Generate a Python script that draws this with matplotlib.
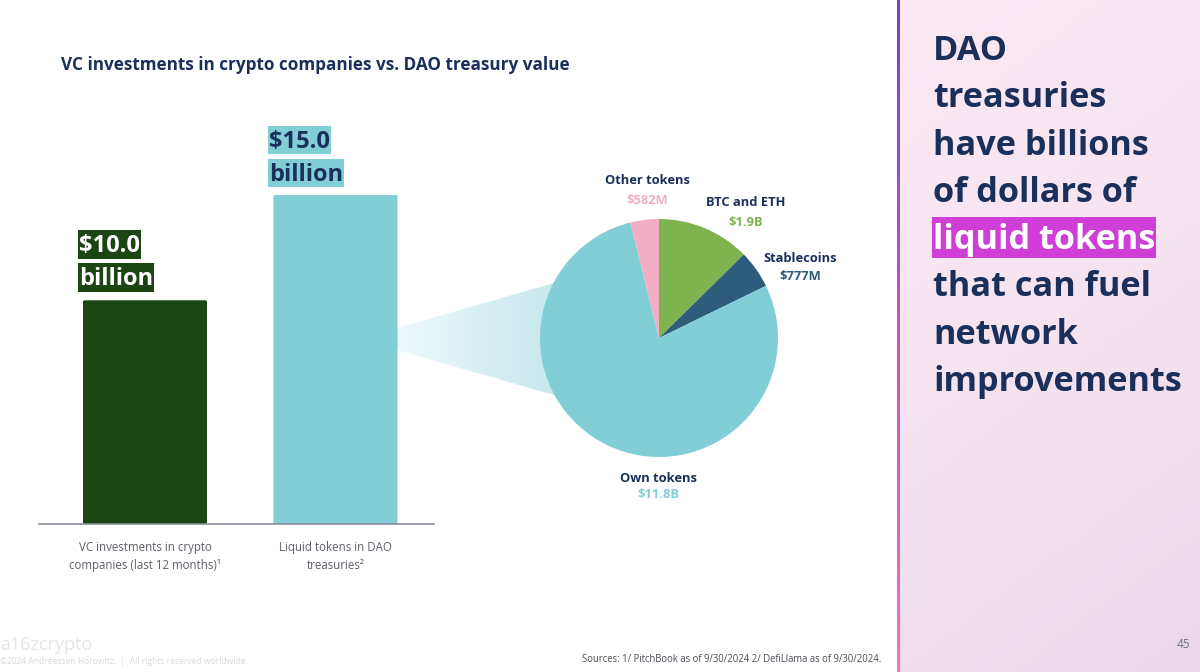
import numpy as np
import matplotlib
matplotlib.use('Agg')
import matplotlib.pyplot as plt
from matplotlib.patches import Polygon, FancyBboxPatch, Rectangle
from matplotlib.colors import LinearSegmentedColormap

plt.rcParams['font.family'] = ['Open Sans', 'DejaVu Sans']

NAVY = '#1a2f5a'
TEAL = '#81ced7'
DARK_GREEN = '#1b4513'

bar_labels = ['VC investments in crypto\ncompanies (last 12 months)¹', 'Liquid tokens in DAO\ntreasuries²']
bar_values = [10.2, 15.0]
bar_colors = [DARK_GREEN, TEAL]

pie_names = ['BTC and ETH', 'Stablecoins', 'Own tokens', 'Other tokens']
pie_values = [1.9, 0.777, 11.8, 0.582]
pie_amounts = ['$1.9B', '$777M', '$11.8B', '$582M']
pie_colors = ['#7fb350', '#2e5c7c', TEAL, '#f1adc3']

headline = ['DAO', 'treasuries', 'have billions', 'of dollars of', 'liquid tokens', 'that can fuel', 'network', 'improvements']

W, H = 1200, 672
fig = plt.figure(figsize=(12, 6.72), dpi=100, facecolor='white')


def px_axes(left, top, right, bottom, **kw):
    return fig.add_axes([left / W, 1 - bottom / H, (right - left) / W, (bottom - top) / H], **kw)


# whole slide in pixel coordinates
bg = px_axes(0, 0, W, H)
bg.set_xlim(0, W)
bg.set_ylim(H, 0)
bg.axis('off')


def highlighted(x, top, bottom, s, size, fc, tc):
    # text on a marker-style block, block width follows the text
    t = bg.text(x + 1, (top + bottom) / 2 + size * 0.1, s, fontsize=size, fontweight='bold', color=tc,
                va='center', ha='left', zorder=6)
    width = t.get_window_extent(fig.canvas.get_renderer()).width
    bg.add_patch(Rectangle((x, top), width + 2, bottom - top, facecolor=fc, edgecolor='none', zorder=5))


# right panel
yy, xx = np.mgrid[0:1:120j, 0:1:60j]
t = 0.75 * yy + 0.25 * xx
panel_cmap = LinearSegmentedColormap.from_list('panel', ['#fbeaf4', '#f5e3f0', '#ebd9ea'])
bg.imshow(t, extent=(897, W, H, 0), cmap=panel_cmap, aspect='auto', vmin=0, vmax=1, zorder=0)
edge_cmap = LinearSegmentedColormap.from_list('edge', ['#8a3bb8', '#c257c4', '#f273b6'])
bg.imshow(np.linspace(0, 1, 200).reshape(-1, 1), extent=(896.5, 899.5, H, 0), cmap=edge_cmap,
          aspect='auto', zorder=1)

# funnel from the bar to the pie
fade_cmap = LinearSegmentedColormap.from_list('fade', ['#eef9fb', '#c1e6eb'])
fade = bg.imshow(np.linspace(0, 1, 200).reshape(1, -1), extent=(397, 575, H, 0), cmap=fade_cmap,
                 aspect='auto', zorder=1)
fade.set_clip_path(Polygon([(397, 328), (575, 277), (575, 401), (397, 350)], transform=bg.transData))
bg.set_xlim(0, W)
bg.set_ylim(H, 0)

bg.text(61, 65, 'VC investments in crypto companies vs. DAO treasury value', fontsize=12.3,
        fontweight='bold', color=NAVY, va='center', ha='left')

# bar value labels
highlighted(78, 230, 259, '$10.0', 17, DARK_GREEN, 'white')
highlighted(78, 263, 292, 'billion', 17, DARK_GREEN, 'white')
highlighted(268, 126, 154, '$15.0', 17, TEAL, NAVY)
highlighted(268, 159, 187, 'billion', 17, TEAL, NAVY)

# bars
ax = px_axes(39, 195, 434, 524)
ax.patch.set_alpha(0)
ax.set_xlim(0, 395)
ax.set_ylim(0, max(bar_values))
centers = [106, 296.5]
for c, v, col in zip(centers, bar_values, bar_colors):
    ax.add_patch(FancyBboxPatch((c - 62, 0), 124, v, boxstyle='round,pad=0,rounding_size=1.5',
                                facecolor=col, edgecolor='none', mutation_aspect=0.05))
for s in ['top', 'left', 'right']:
    ax.spines[s].set_visible(False)
ax.spines['bottom'].set_color('#8a8f99')
ax.spines['bottom'].set_linewidth(1.2)
ax.set_yticks([])
ax.set_xticks(centers)
ax.set_xticklabels(bar_labels, fontsize=8.3, color='#5d6068', linespacing=1.42)
ax.tick_params(axis='x', length=0, pad=12.5)

# pie
pie_ax = px_axes(659 - 119, 338 - 119, 659 + 119, 338 + 119)
pie_ax.pie(pie_values, colors=pie_colors, startangle=90, counterclock=False, radius=1,
           wedgeprops=dict(linewidth=0))
pie_ax.set_xlim(-1, 1)
pie_ax.set_ylim(-1, 1)

label_pos = [(745.5, 203, 222, '#7fb350'), (800, 258, 277, '#2e5c7c'), (658.5, 478, 495, TEAL), (647.5, 180, 200, '#f1adc3')]
for name, amount, (x, y1, y2, col) in zip(pie_names, pie_amounts, label_pos):
    bg.text(x, y1, name, fontsize=9.3, fontweight='bold', color=NAVY, ha='center', va='center')
    bg.text(x, y2, amount, fontsize=9.3, fontweight='bold', color=col, ha='center', va='center')

# headline
for i, line in enumerate(headline):
    y = 51 + i * 47.3
    if line == 'liquid tokens':
        highlighted(932, 217, 258, line, 24.7, '#cf3fd8', 'white')
    else:
        bg.text(933, y, line, fontsize=24.7, fontweight='bold', color=NAVY, va='center', ha='left', zorder=5)

# footer
bg.text(0, 645, 'a16zcrypto', fontsize=13, color='#e6e6e9', va='center', ha='left')
bg.text(0, 662, '©2024 Andreessen Horowitz.  |  All rights reserved worldwide.', fontsize=6.15,
        color='#dadade', va='center', ha='left')
bg.text(881, 659, 'Sources: 1/ PitchBook as of 9/30/2024 2/ DefiLlama as of 9/30/2024.', fontsize=6.85,
        color='#4a4d55', va='center', ha='right')
bg.text(1190, 645, '45', fontsize=8.5, color='#6d7080', va='center', ha='right', zorder=5)

fig.savefig('out.png', dpi=100)
